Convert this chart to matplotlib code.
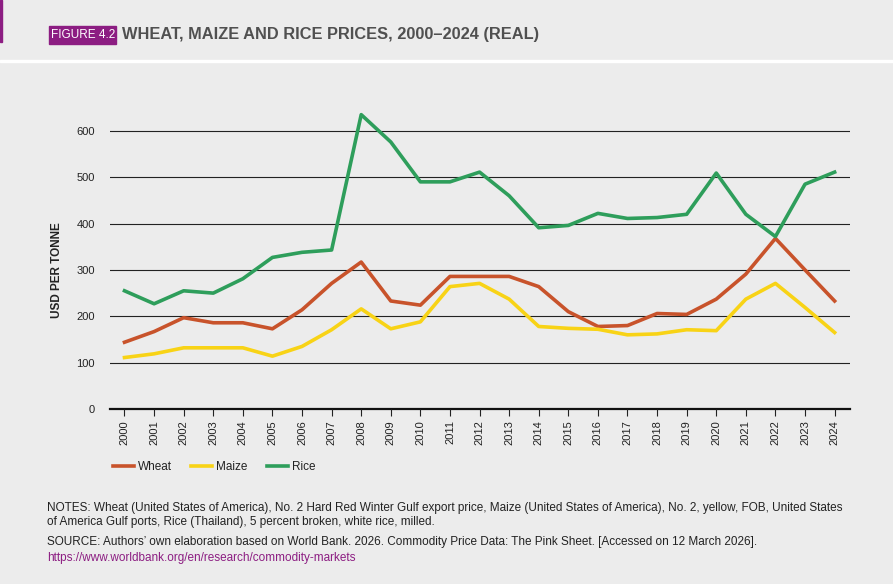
import matplotlib
matplotlib.use("Agg")
import matplotlib.pyplot as plt
from matplotlib.lines import Line2D

years = list(range(2000, 2025))
wheat = [144, 167, 197, 186, 186, 173, 214, 271, 317, 233, 224, 286, 286, 286,
         264, 210, 178, 180, 206, 204, 237, 291, 368, 300, 233]
maize = [111, 119, 132, 132, 132, 114, 135, 171, 216, 173, 188, 264, 271, 237,
         178, 174, 172, 160, 162, 171, 169, 237, 271, 219, 165]
rice = [255, 227, 255, 250, 281, 327, 338, 343, 635, 576, 490, 490, 511, 460,
        391, 396, 422, 411, 413, 420, 509, 420, 372, 485, 511]
yticks = [0, 100, 200, 300, 400, 500, 600]

BG = "#ececec"
WHEAT_C = "#c8532b"
MAIZE_C = "#f8d316"
RICE_C = "#2e9e5b"
PURPLE = "#8c1d82"
TXT = "#222222"

plt.rcParams["font.family"] = ["Liberation Sans", "DejaVu Sans"]

W, H = 893, 584
fig = plt.figure(figsize=(W / 100, H / 100), dpi=100, facecolor=BG)
renderer = fig.canvas.get_renderer()


def fx(px):
    return px / W


def fy(py):
    return 1 - py / H


def fit_text(x, y, s, width, size, **kw):
    # shrink the font until the text is as wide as in the reference
    t = fig.text(fx(x), fy(y), s, fontsize=size, va="center", ha="left", **kw)
    w = t.get_window_extent(renderer).width
    if w > width:
        t.set_fontsize(size * width / w)
    return t


# header
fig.patches.append(plt.Rectangle((0, fy(42)), fx(2), fy(0) - fy(42),
                                 transform=fig.transFigure, color=PURPLE))
fig.patches.append(plt.Rectangle((0, fy(62)), 1, fy(60) - fy(62),
                                 transform=fig.transFigure, color="white"))
fig.patches.append(plt.Rectangle((fx(49), fy(44)), fx(116) - fx(49), fy(26) - fy(44),
                                 transform=fig.transFigure, color=PURPLE))
fit_text(51, 35, "FIGURE 4.2", 64, 12, color="white")
fit_text(122, 35, "WHEAT, MAIZE AND RICE PRICES, 2000\u20132024 (REAL)", 418, 13,
         color="#505050", fontweight="bold")

# axes
ax = fig.add_axes([fx(110), fy(409), fx(850) - fx(110), fy(110) - fy(409)])
ax.set_facecolor(BG)
ax.set_xlim(1999.51, 2024.52)
ax.set_ylim(0, 645)

for y in yticks[1:]:
    ax.axhline(y, color=TXT, lw=0.8, zorder=1)
ax.axhline(0, color="#111111", lw=1.6, zorder=1, clip_on=False)

ax.plot(years, wheat, color=WHEAT_C, lw=2.6, zorder=3)
ax.plot(years, maize, color=MAIZE_C, lw=2.6, zorder=3)
ax.plot(years, rice, color=RICE_C, lw=2.6, zorder=4)

for s in ax.spines.values():
    s.set_visible(False)

ax.set_yticks(yticks)
ax.set_yticklabels([str(v) for v in yticks], fontsize=8, color=TXT)
ax.tick_params(axis="y", length=0, pad=11)
ax.set_xticks(years)
ax.set_xticklabels([str(y) for y in years], rotation=90, fontsize=8, color=TXT)
ax.tick_params(axis="x", length=5, width=0.8, color=TXT, pad=3)

fig.text(fx(57), fy(270), "USD PER TONNE", rotation=90, fontsize=8.5,
         fontweight="bold", color=TXT, va="center", ha="center")

# legend
handles = [Line2D([], [], color=WHEAT_C, lw=2.6),
           Line2D([], [], color=MAIZE_C, lw=2.6),
           Line2D([], [], color=RICE_C, lw=2.6)]
fig.legend(handles, ["Wheat", "Maize", "Rice"], loc="center left",
           bbox_to_anchor=(fx(102), fy(467)), ncol=3, frameon=False,
           fontsize=8.5, handlelength=1.8, handletextpad=0.35,
           columnspacing=1.6, labelcolor=TXT)

# notes
fit_text(47, 508,
         "NOTES: Wheat (United States of America), No. 2 Hard Red Winter Gulf export price, "
         "Maize (United States of America), No. 2, yellow, FOB, United States",
         793, 8.5, color=TXT)
fit_text(47, 522,
         "of America Gulf ports, Rice (Thailand), 5 percent broken, white rice, milled.",
         392, 8.5, color=TXT)
fit_text(47, 542,
         "SOURCE: Authors\u2019 own elaboration based on World Bank. 2026. Commodity Price "
         "Data: The Pink Sheet. [Accessed on 12 March 2026].",
         710, 8.5, color=TXT)
fit_text(47, 558, "https://www.worldbank.org/en/research/commodity-markets",
         318, 8.5, color=PURPLE)

fig.savefig("out.png", dpi=100, facecolor=BG)
